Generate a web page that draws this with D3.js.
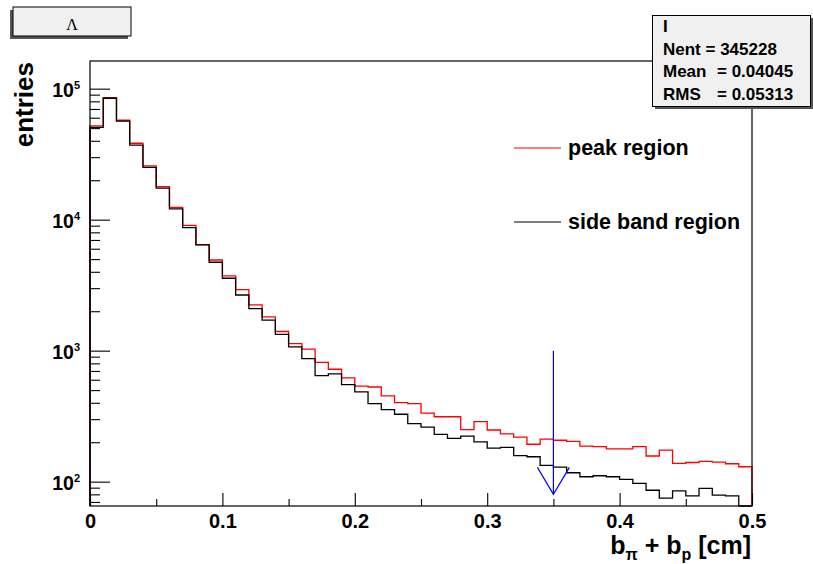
<!DOCTYPE html>
<html>
<head>
<meta charset="utf-8">
<script src="https://cdn.jsdelivr.net/npm/d3@7"></script>
<style>
  body { margin: 0; background: #fff; }
  svg { display: block; font-family: "Liberation Sans", Arial, sans-serif; }
</style>
</head>
<body>
<svg id="canvas"></svg>
<script>
"use strict";

// Histogram data: 50 bins of 0.01 cm from 0 to 0.5
const binWidth = 0.01;
const peakRegion = [
    51900, 85300, 57400, 38300, 25700, 17900, 12400, 9060, 6440, 4920,
    3720, 2920, 2240, 1810, 1400, 1130, 1026, 815, 721, 620,
    537, 528, 451, 401, 394, 334, 313, 313, 250, 287,
    248, 232, 219, 193, 211, 207, 203, 187, 185, 178,
    178, 185, 157, 174, 138, 140, 143, 141, 137, 130
];
const sideBandRegion = [
    50700, 84500, 56600, 37100, 25100, 17400, 12100, 8690, 6410, 4730,
    3570, 2660, 2090, 1710, 1330, 1070, 869, 645, 664, 550,
    484, 394, 355, 327, 277, 261, 230, 214, 223, 201,
    180, 183, 158, 155, 133, 129, 117, 109, 111, 109,
    104, 97, 86, 75, 85, 78, 89, 79, 78, 55
];
const xTickValues = [0, 0.1, 0.2, 0.3, 0.4, 0.5];
const xMinorTickValues = [0.05, 0.15, 0.25, 0.35, 0.45];
const yTickValues = [1e2, 1e3, 1e4, 1e5];
const yTickExponents = ["2", "3", "4", "5"];
const legendLabels = ["peak region", "side band region"];
const legendColors = ["#ff0000", "#000000"];
const statsLines = [["I", ""], ["Nent = 345228", ""], ["Mean", "= 0.04045"], ["RMS", "= 0.05313"]];
const cutValue = 0.35;
const arrowRange = [1000, 80];

const width = 813;
const height = 564;
const frame = { left: 90, right: 752, top: 61, bottom: 506 };

const svg = d3.select("#canvas")
    .attr("width", width)
    .attr("height", height);

svg.append("rect").attr("width", width).attr("height", height).attr("fill", "#fff");

// Scales
const x = d3.scaleLinear()
    .domain([0, 0.5])
    .range([frame.left, frame.right]);

const y = d3.scaleLog()
    .domain([65.2, 1.626e5])
    .range([frame.bottom, frame.top])
    .clamp(true);

// Histogram outline as a step line
function histPoints(values) {
    const pts = [[0, y.domain()[0]]];
    values.forEach((v, i) => pts.push([i * binWidth, v]));
    pts.push([values.length * binWidth, values[values.length - 1]]);
    pts.push([values.length * binWidth, y.domain()[0]]);
    return pts;
}

const stepLine = d3.line()
    .x(d => x(d[0]))
    .y(d => y(d[1]))
    .curve(d3.curveStepAfter);

[peakRegion, sideBandRegion].forEach((values, i) => {
    svg.append("path")
        .datum(histPoints(values))
        .attr("fill", "none")
        .attr("stroke", legendColors[i])
        .attr("stroke-width", 1.3)
        .attr("d", stepLine);
});

// Frame
svg.append("rect")
    .attr("x", frame.left)
    .attr("y", frame.top)
    .attr("width", frame.right - frame.left)
    .attr("height", frame.bottom - frame.top)
    .attr("fill", "none")
    .attr("stroke", "#000")
    .attr("stroke-width", 1.2);

// X axis, ticks pointing inward
const xAxis = svg.append("g")
    .attr("transform", `translate(0,${frame.bottom})`)
    .call(d3.axisBottom(x).tickValues(xTickValues).tickSize(-13).tickPadding(8)
        .tickFormat(d => d === 0 ? "0" : d3.format(".1f")(d)));
xAxis.select(".domain").remove();
xAxis.selectAll("text")
    .attr("font-size", 20)
    .attr("font-weight", "bold")
    .attr("fill", "#000");

const xMinor = svg.append("g")
    .attr("transform", `translate(0,${frame.bottom})`)
    .call(d3.axisBottom(x).tickValues(xMinorTickValues).tickSize(-7).tickFormat(""));
xMinor.select(".domain").remove();

// Y axis (log), major ticks with 10^n labels
const yAxis = svg.append("g")
    .attr("transform", `translate(${frame.left},0)`)
    .call(d3.axisLeft(y).tickValues(yTickValues).tickSize(-20).tickPadding(10).tickFormat(""));
yAxis.select(".domain").remove();
yAxis.selectAll(".tick text")
    .attr("dy", "0.42em")
    .attr("font-weight", "bold")
    .attr("font-size", 19.5)
    .attr("fill", "#000")
    .each(function(d, i) {
        const t = d3.select(this);
        t.append("tspan").text("10");
        t.append("tspan").text(yTickExponents[i])
            .attr("font-size", 11)
            .attr("dy", "-0.75em");
    });

const yMinorValues = [];
for (let e = 1; e <= 5; ++e) {
    for (let m = 2; m <= 9; ++m) {
        const v = m * Math.pow(10, e);
        if (v > y.domain()[0] && v < y.domain()[1]) yMinorValues.push(v);
    }
}
const yMinor = svg.append("g")
    .attr("transform", `translate(${frame.left},0)`)
    .call(d3.axisLeft(y).tickValues(yMinorValues).tickSize(-10).tickFormat(""));
yMinor.select(".domain").remove();

svg.selectAll(".tick line").attr("stroke", "#000").attr("stroke-width", 1.1);

// Axis titles
const xTitle = svg.append("text")
    .attr("x", 751)
    .attr("y", 554)
    .attr("text-anchor", "end")
    .attr("font-size", 25)
    .attr("font-weight", "bold");
xTitle.append("tspan").text("b");
xTitle.append("tspan").text("\u03c0").attr("font-size", 16).attr("dy", 6);
xTitle.append("tspan").text(" + b").attr("dy", -6);
xTitle.append("tspan").text("p").attr("font-size", 16).attr("dy", 6);
xTitle.append("tspan").text(" [cm]").attr("dy", -6);

svg.append("text")
    .attr("transform", "translate(33,62) rotate(-90)")
    .attr("text-anchor", "end")
    .attr("font-size", 26)
    .attr("font-weight", "bold")
    .text("entries");

// Cut arrow
svg.append("line")
    .attr("x1", x(cutValue)).attr("x2", x(cutValue))
    .attr("y1", y(arrowRange[0])).attr("y2", y(arrowRange[1]))
    .attr("stroke", "#0000ff").attr("stroke-width", 1.2);
svg.append("path")
    .attr("d", `M${x(cutValue) - 16},${y(arrowRange[1]) - 27}L${x(cutValue)},${y(arrowRange[1])}L${x(cutValue) + 16},${y(arrowRange[1]) - 27}`)
    .attr("fill", "none")
    .attr("stroke", "#0000ff")
    .attr("stroke-width", 1.2);

// Legend
legendLabels.forEach((label, i) => {
    const ly = 148 + i * 74;
    svg.append("line")
        .attr("x1", 514).attr("x2", 561)
        .attr("y1", ly).attr("y2", ly)
        .attr("stroke", legendColors[i])
        .attr("stroke-width", 1.2);
    svg.append("text")
        .attr("x", 568)
        .attr("y", ly + 7)
        .attr("font-size", 21.5)
        .attr("font-weight", "bold")
        .text(label);
});

// Title box
svg.append("rect")
    .attr("x", 10).attr("y", 10).attr("width", 118).attr("height", 29)
    .attr("fill", "#555");
svg.append("rect")
    .attr("x", 13).attr("y", 7).attr("width", 118).attr("height", 29)
    .attr("fill", "#f0f0f0").attr("stroke", "#000").attr("stroke-width", 1);
svg.append("text")
    .attr("x", 72).attr("y", 29.5)
    .attr("text-anchor", "middle")
    .attr("font-family", "'Liberation Serif', 'DejaVu Serif', serif")
    .attr("font-size", 16)
    .text("\u039b");

// Stats box
svg.append("rect")
    .attr("x", 655).attr("y", 18).attr("width", 158).attr("height", 91)
    .attr("fill", "#555");
svg.append("rect")
    .attr("x", 652.5).attr("y", 15.5).attr("width", 158).attr("height", 91)
    .attr("fill", "#f0f0f0").attr("stroke", "#000").attr("stroke-width", 1);
statsLines.forEach((line, i) => {
    const ty = 32 + i * 22.7;
    svg.append("text")
        .attr("x", 663).attr("y", ty)
        .attr("font-size", 17).attr("font-weight", "bold")
        .text(line[0]);
    if (line[1]) {
        svg.append("text")
            .attr("x", 717).attr("y", ty)
            .attr("font-size", 17).attr("font-weight", "bold")
            .text(line[1]);
    }
});
</script>
</body>
</html>
